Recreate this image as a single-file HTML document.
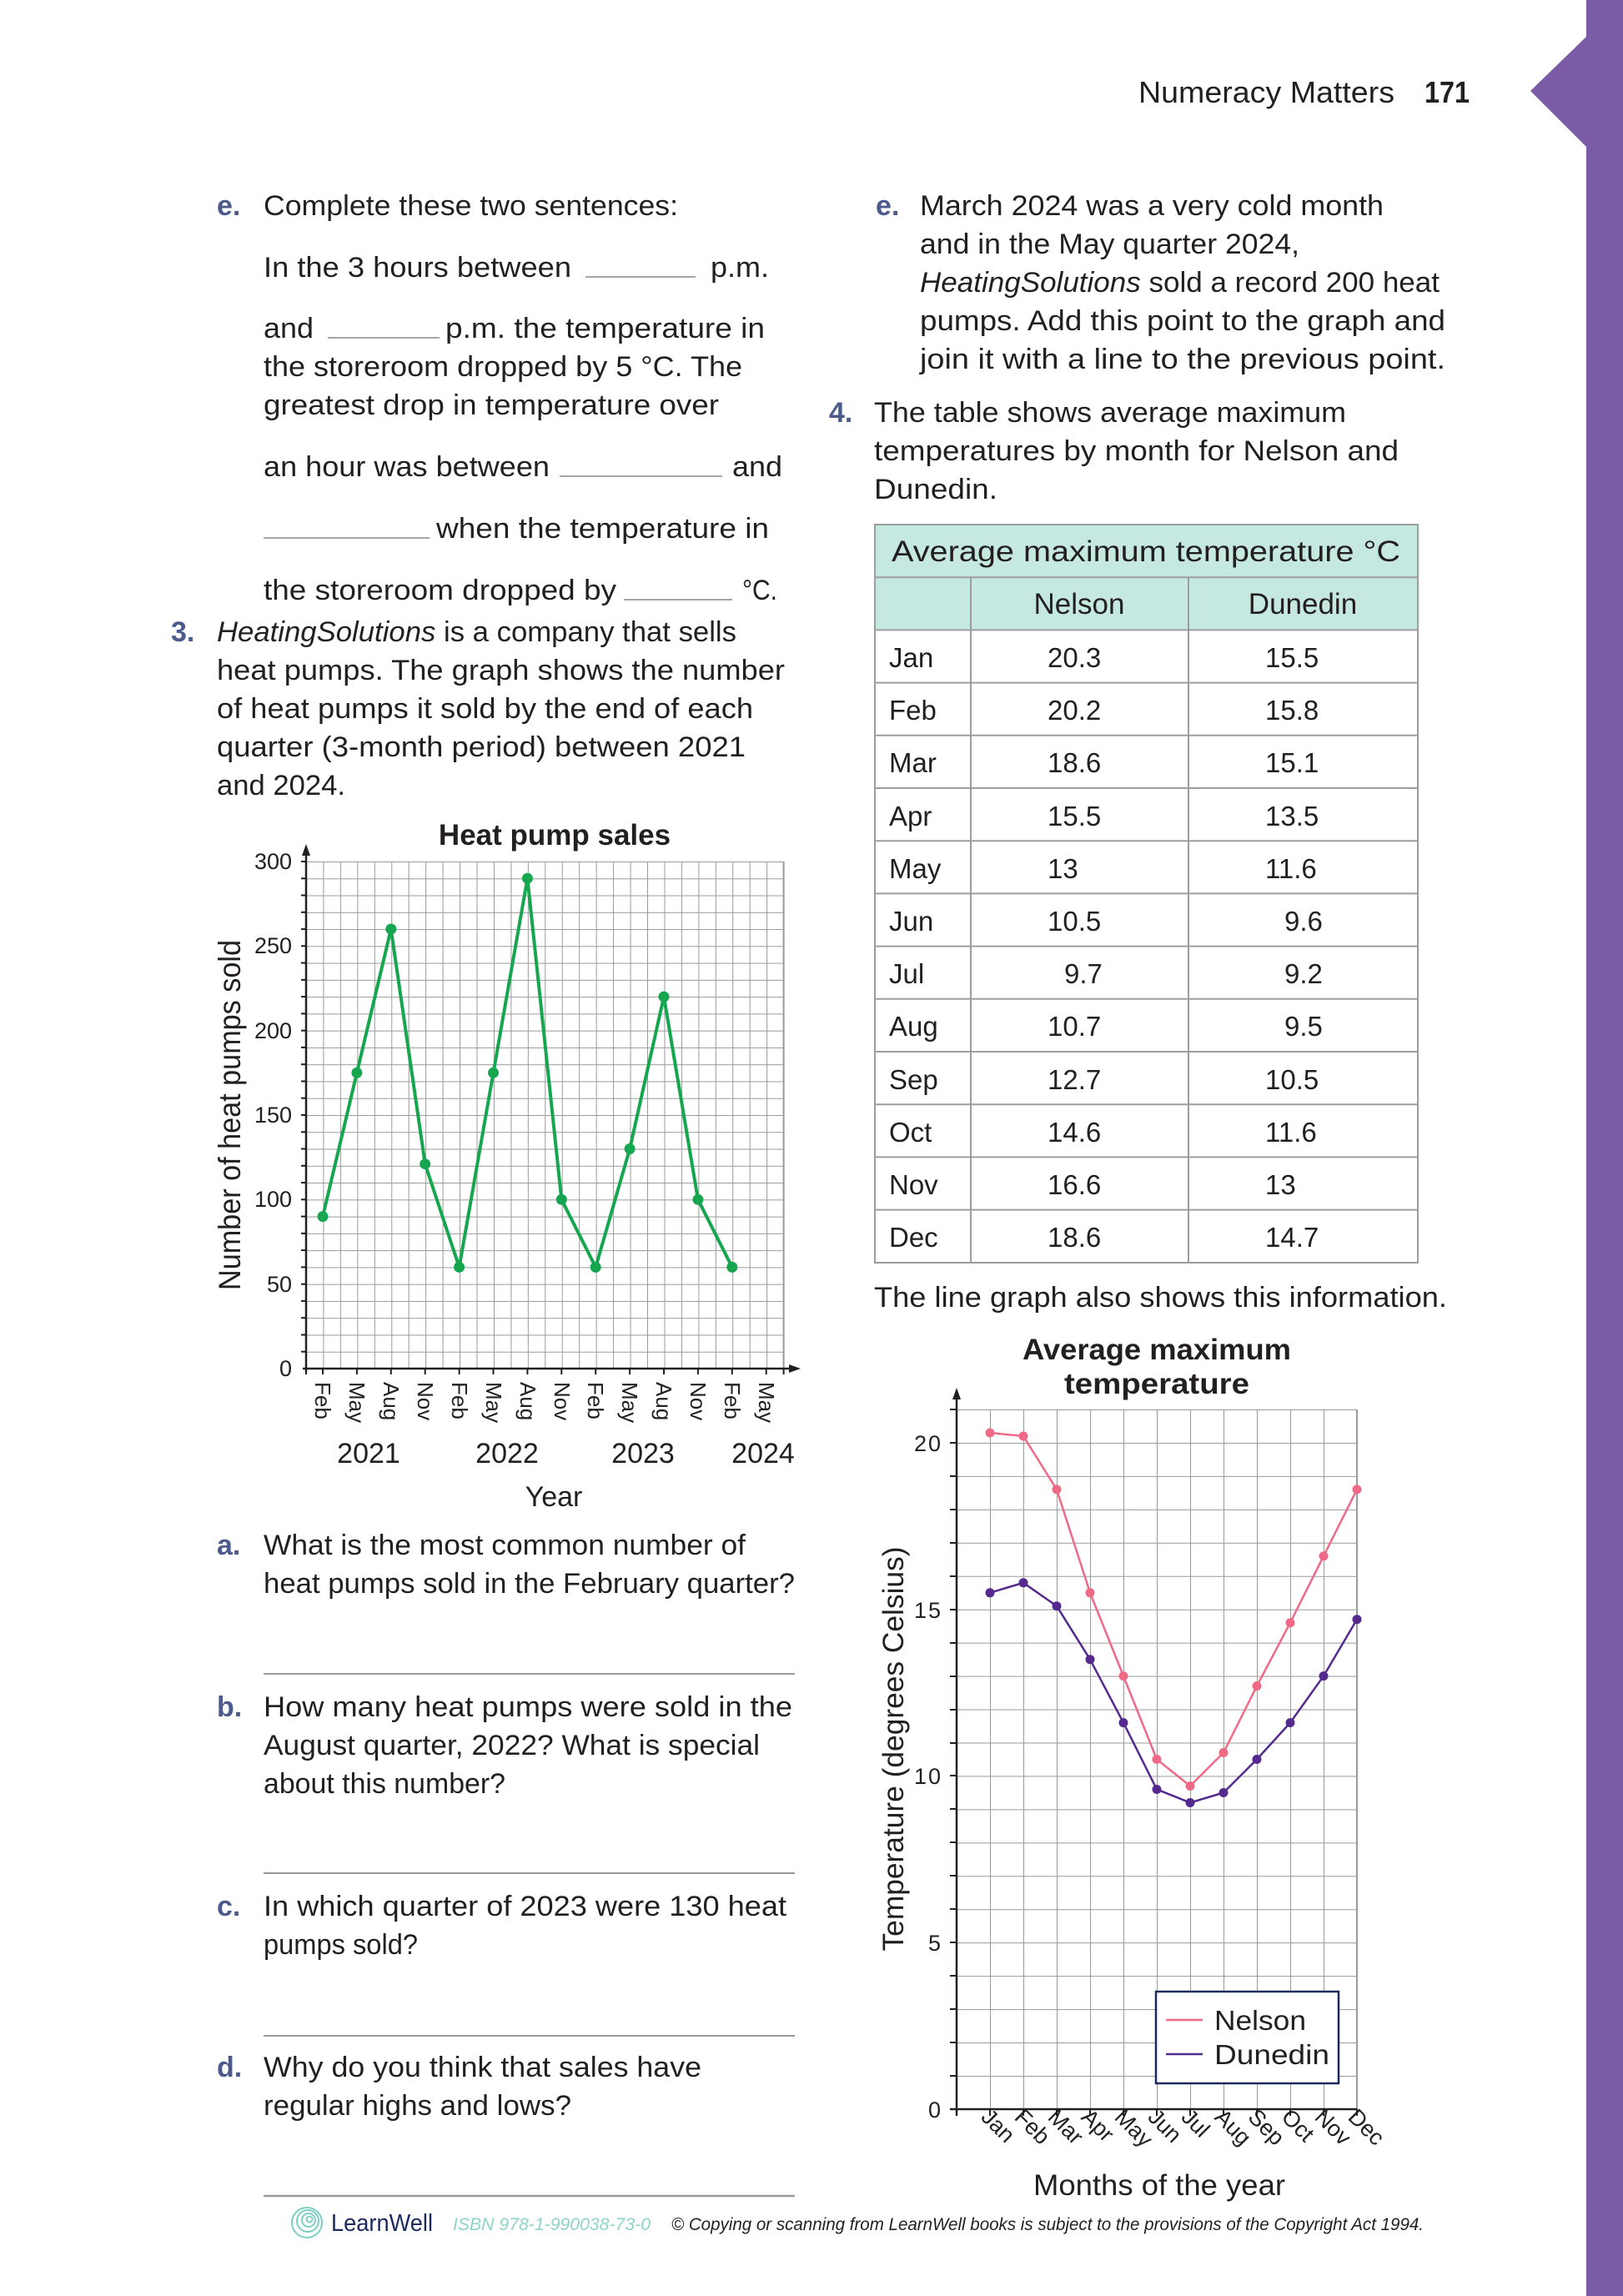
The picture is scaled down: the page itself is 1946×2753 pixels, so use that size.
<!DOCTYPE html>
<html><head><meta charset="utf-8"><style>
html,body{margin:0;padding:0;background:#fff;}
svg{display:block;}
text{font-family:"Liberation Sans",sans-serif;fill:#231f20;}
.b{font-size:34px;}
.lab{font-size:34px;font-weight:bold;fill:#4d5b8c;}
.t{font-size:25px;}
</style></head><body>
<svg width="1946" height="2753" viewBox="0 0 1946 2753" xmlns="http://www.w3.org/2000/svg">
<defs>
<pattern id="g1" patternUnits="userSpaceOnUse" x="367" y="1033" width="20.45" height="20.267">
<path d="M0 0 V20.267 M0 0 H20.45" stroke="#9a9a9a" stroke-width="2" fill="none"/>
</pattern>
<pattern id="g2" patternUnits="userSpaceOnUse" x="1147" y="1690" width="40" height="39.95">
<path d="M0 0 V39.95 M0 0 H40" stroke="#9a9a9a" stroke-width="2" fill="none"/>
</pattern>
</defs>

<rect x="1902" y="0" width="44" height="2753" fill="#7b5ba6"/>
<polygon points="1902,44 1835,109 1902,176" fill="#7b5ba6"/>
<text x="1365" y="123" style="font-size:36px" textLength="307" lengthAdjust="spacingAndGlyphs">Numeracy Matters</text>
<text x="1708" y="123" style="font-size:36px;font-weight:bold" textLength="54" lengthAdjust="spacingAndGlyphs">171</text>

<text class="lab" x="260" y="258">e.</text>
<text class="b" x="316" y="258" textLength="497" lengthAdjust="spacingAndGlyphs">Complete these two sentences:</text>
<text class="b" x="316" y="332" textLength="369" lengthAdjust="spacingAndGlyphs">In the 3 hours between</text>
<line x1="702" y1="332" x2="834" y2="332" stroke="#888" stroke-width="1.5"/>
<text class="b" x="852" y="332" textLength="70" lengthAdjust="spacingAndGlyphs">p.m.</text>
<text class="b" x="316" y="405" textLength="60" lengthAdjust="spacingAndGlyphs">and</text>
<line x1="393" y1="405" x2="527" y2="405" stroke="#888" stroke-width="1.5"/>
<text class="b" x="534" y="405" textLength="383" lengthAdjust="spacingAndGlyphs">p.m. the temperature in</text>
<text class="b" x="316" y="451" textLength="574" lengthAdjust="spacingAndGlyphs">the storeroom dropped by 5 °C. The</text>
<text class="b" x="316" y="497" textLength="546" lengthAdjust="spacingAndGlyphs">greatest drop in temperature over</text>
<text class="b" x="316" y="571" textLength="343" lengthAdjust="spacingAndGlyphs">an hour was between</text>
<line x1="671" y1="571" x2="866" y2="571" stroke="#888" stroke-width="1.5"/>
<text class="b" x="878" y="571" textLength="60" lengthAdjust="spacingAndGlyphs">and</text>
<line x1="316" y1="645" x2="515" y2="645" stroke="#888" stroke-width="1.5"/>
<text class="b" x="523" y="645" textLength="399" lengthAdjust="spacingAndGlyphs">when the temperature in</text>
<text class="b" x="316" y="719" textLength="423" lengthAdjust="spacingAndGlyphs">the storeroom dropped by</text>
<line x1="748" y1="719" x2="878" y2="719" stroke="#888" stroke-width="1.5"/>
<text class="b" x="890" y="719" textLength="42" lengthAdjust="spacingAndGlyphs">°C.</text>
<text class="lab" x="205" y="769">3.</text>
<text class="b" x="260" y="769" textLength="623" lengthAdjust="spacingAndGlyphs"><tspan font-style="italic">HeatingSolutions</tspan> is a company that sells</text>
<text class="b" x="260" y="815" textLength="681" lengthAdjust="spacingAndGlyphs">heat pumps. The graph shows the number</text>
<text class="b" x="260" y="861" textLength="643" lengthAdjust="spacingAndGlyphs">of heat pumps it sold by the end of each</text>
<text class="b" x="260" y="907" textLength="634" lengthAdjust="spacingAndGlyphs">quarter (3-month period) between 2021</text>
<text class="b" x="260" y="953" textLength="154" lengthAdjust="spacingAndGlyphs">and 2024.</text>

<text x="665" y="1013" text-anchor="middle" style="font-size:35px;font-weight:bold">Heat pump sales</text>
<rect x="367" y="1033" width="572.6" height="608" fill="url(#g1)"/>
<line x1="939.6" y1="1033" x2="939.6" y2="1641" stroke="#9a9a9a" stroke-width="2"/>
<g stroke="#231f20" stroke-width="2">
<line x1="361" y1="1033" x2="367" y2="1033"/><line x1="361" y1="1053.3" x2="367" y2="1053.3"/><line x1="361" y1="1073.5" x2="367" y2="1073.5"/><line x1="361" y1="1093.8" x2="367" y2="1093.8"/><line x1="361" y1="1114.1" x2="367" y2="1114.1"/><line x1="361" y1="1134.3" x2="367" y2="1134.3"/><line x1="361" y1="1154.6" x2="367" y2="1154.6"/><line x1="361" y1="1174.9" x2="367" y2="1174.9"/><line x1="361" y1="1195.1" x2="367" y2="1195.1"/><line x1="361" y1="1215.4" x2="367" y2="1215.4"/><line x1="361" y1="1235.7" x2="367" y2="1235.7"/><line x1="361" y1="1255.9" x2="367" y2="1255.9"/><line x1="361" y1="1276.2" x2="367" y2="1276.2"/><line x1="361" y1="1296.5" x2="367" y2="1296.5"/><line x1="361" y1="1316.7" x2="367" y2="1316.7"/><line x1="361" y1="1337" x2="367" y2="1337"/><line x1="361" y1="1357.3" x2="367" y2="1357.3"/><line x1="361" y1="1377.5" x2="367" y2="1377.5"/><line x1="361" y1="1397.8" x2="367" y2="1397.8"/><line x1="361" y1="1418.1" x2="367" y2="1418.1"/><line x1="361" y1="1438.3" x2="367" y2="1438.3"/><line x1="361" y1="1458.6" x2="367" y2="1458.6"/><line x1="361" y1="1478.9" x2="367" y2="1478.9"/><line x1="361" y1="1499.1" x2="367" y2="1499.1"/><line x1="361" y1="1519.4" x2="367" y2="1519.4"/><line x1="361" y1="1539.7" x2="367" y2="1539.7"/><line x1="361" y1="1559.9" x2="367" y2="1559.9"/><line x1="361" y1="1580.2" x2="367" y2="1580.2"/><line x1="361" y1="1600.5" x2="367" y2="1600.5"/><line x1="361" y1="1620.7" x2="367" y2="1620.7"/>
<line x1="387" y1="1641" x2="387" y2="1648"/><line x1="427.9" y1="1641" x2="427.9" y2="1648"/><line x1="468.8" y1="1641" x2="468.8" y2="1648"/><line x1="509.7" y1="1641" x2="509.7" y2="1648"/><line x1="550.6" y1="1641" x2="550.6" y2="1648"/><line x1="591.5" y1="1641" x2="591.5" y2="1648"/><line x1="632.4" y1="1641" x2="632.4" y2="1648"/><line x1="673.3" y1="1641" x2="673.3" y2="1648"/><line x1="714.2" y1="1641" x2="714.2" y2="1648"/><line x1="755.1" y1="1641" x2="755.1" y2="1648"/><line x1="796" y1="1641" x2="796" y2="1648"/><line x1="836.9" y1="1641" x2="836.9" y2="1648"/><line x1="877.8" y1="1641" x2="877.8" y2="1648"/><line x1="918.7" y1="1641" x2="918.7" y2="1648"/><line x1="367" y1="1641" x2="367" y2="1648"/><line x1="939.6" y1="1641" x2="939.6" y2="1648"/>
</g>
<line x1="367" y1="1645" x2="367" y2="1022" stroke="#231f20" stroke-width="2.5"/>
<polygon points="367,1012 362,1026 372,1026" fill="#231f20"/>
<line x1="363" y1="1641" x2="948" y2="1641" stroke="#231f20" stroke-width="2.5"/>
<polygon points="960,1641 946,1636 946,1646" fill="#231f20"/>
<g text-anchor="end">
<text x="350" y="1650" style="font-size:27px">0</text><text x="350" y="1549" style="font-size:27px">50</text><text x="350" y="1447" style="font-size:27px">100</text><text x="350" y="1346" style="font-size:27px">150</text><text x="350" y="1245" style="font-size:27px">200</text><text x="350" y="1143" style="font-size:27px">250</text><text x="350" y="1042" style="font-size:27px">300</text>
</g>
<g>
<text transform="translate(378,1657) rotate(90)" style="font-size:26px">Feb</text>
<text transform="translate(419,1657) rotate(90)" style="font-size:26px">May</text>
<text transform="translate(460,1657) rotate(90)" style="font-size:26px">Aug</text>
<text transform="translate(501,1657) rotate(90)" style="font-size:26px">Nov</text>
<text transform="translate(542,1657) rotate(90)" style="font-size:26px">Feb</text>
<text transform="translate(583,1657) rotate(90)" style="font-size:26px">May</text>
<text transform="translate(624,1657) rotate(90)" style="font-size:26px">Aug</text>
<text transform="translate(665,1657) rotate(90)" style="font-size:26px">Nov</text>
<text transform="translate(705,1657) rotate(90)" style="font-size:26px">Feb</text>
<text transform="translate(746,1657) rotate(90)" style="font-size:26px">May</text>
<text transform="translate(787,1657) rotate(90)" style="font-size:26px">Aug</text>
<text transform="translate(828,1657) rotate(90)" style="font-size:26px">Nov</text>
<text transform="translate(869,1657) rotate(90)" style="font-size:26px">Feb</text>
<text transform="translate(910,1657) rotate(90)" style="font-size:26px">May</text>
</g>
<g text-anchor="middle">
<text x="442" y="1754" style="font-size:34px">2021</text><text x="608" y="1754" style="font-size:34px">2022</text><text x="771" y="1754" style="font-size:34px">2023</text><text x="915" y="1754" style="font-size:34px">2024</text>
<text x="664" y="1806" style="font-size:34px">Year</text>
</g>
<text transform="translate(288,1337) rotate(-90)" text-anchor="middle" style="font-size:37px" textLength="420" lengthAdjust="spacingAndGlyphs">Number of heat pumps sold</text>
<polyline fill="none" stroke="#17a650" stroke-width="4" stroke-linejoin="round" points="387,1458.6 427.9,1286.3 468.8,1114.0 509.7,1395.7 550.6,1519.4 591.5,1286.3 632.4,1053.2 673.3,1438.3 714.2,1519.4 755.1,1377.5 796,1195.1 836.9,1438.3 877.8,1519.4"/>
<g fill="#17a650">
<circle cx="387" cy="1458.6" r="6.5"/><circle cx="427.9" cy="1286.3" r="6.5"/><circle cx="468.8" cy="1114" r="6.5"/><circle cx="509.7" cy="1395.7" r="6.5"/><circle cx="550.6" cy="1519.4" r="6.5"/><circle cx="591.5" cy="1286.3" r="6.5"/><circle cx="632.4" cy="1053.2" r="6.5"/><circle cx="673.3" cy="1438.3" r="6.5"/><circle cx="714.2" cy="1519.4" r="6.5"/><circle cx="755.1" cy="1377.5" r="6.5"/><circle cx="796" cy="1195.1" r="6.5"/><circle cx="836.9" cy="1438.3" r="6.5"/><circle cx="877.8" cy="1519.4" r="6.5"/>
</g>

<text class="lab" x="260" y="1864">a.</text>
<text class="b" x="316" y="1864" textLength="578" lengthAdjust="spacingAndGlyphs">What is the most common number of</text>
<text class="b" x="316" y="1910" textLength="637" lengthAdjust="spacingAndGlyphs">heat pumps sold in the February quarter?</text>
<line x1="316" y1="2007" x2="953" y2="2007" stroke="#999" stroke-width="2"/>
<text class="lab" x="260" y="2058">b.</text>
<text class="b" x="316" y="2058" textLength="634" lengthAdjust="spacingAndGlyphs">How many heat pumps were sold in the</text>
<text class="b" x="316" y="2104" textLength="595" lengthAdjust="spacingAndGlyphs">August quarter, 2022? What is special</text>
<text class="b" x="316" y="2150" textLength="290" lengthAdjust="spacingAndGlyphs">about this number?</text>
<line x1="316" y1="2246" x2="953" y2="2246" stroke="#999" stroke-width="2"/>
<text class="lab" x="260" y="2297">c.</text>
<text class="b" x="316" y="2297" textLength="627" lengthAdjust="spacingAndGlyphs">In which quarter of 2023 were 130 heat</text>
<text class="b" x="316" y="2343" textLength="185" lengthAdjust="spacingAndGlyphs">pumps sold?</text>
<line x1="316" y1="2441" x2="953" y2="2441" stroke="#999" stroke-width="2"/>
<text class="lab" x="260" y="2490">d.</text>
<text class="b" x="316" y="2490" textLength="525" lengthAdjust="spacingAndGlyphs">Why do you think that sales have</text>
<text class="b" x="316" y="2536" textLength="369" lengthAdjust="spacingAndGlyphs">regular highs and lows?</text>
<line x1="316" y1="2633" x2="953" y2="2633" stroke="#999" stroke-width="2.5"/>

<text class="lab" x="1050" y="258">e.</text>
<text class="b" x="1103" y="258" textLength="556" lengthAdjust="spacingAndGlyphs">March 2024 was a very cold month</text>
<text class="b" x="1103" y="304" textLength="455" lengthAdjust="spacingAndGlyphs">and in the May quarter 2024,</text>
<text class="b" x="1103" y="350" textLength="623" lengthAdjust="spacingAndGlyphs"><tspan font-style="italic">HeatingSolutions</tspan> sold a record 200 heat</text>
<text class="b" x="1103" y="396" textLength="630" lengthAdjust="spacingAndGlyphs">pumps. Add this point to the graph and</text>
<text class="b" x="1103" y="442" textLength="630" lengthAdjust="spacingAndGlyphs">join it with a line to the previous point.</text>
<text class="lab" x="994" y="506">4.</text>
<text class="b" x="1048" y="506" textLength="566" lengthAdjust="spacingAndGlyphs">The table shows average maximum</text>
<text class="b" x="1048" y="552" textLength="629" lengthAdjust="spacingAndGlyphs">temperatures by month for Nelson and</text>
<text class="b" x="1048" y="598" textLength="148" lengthAdjust="spacingAndGlyphs">Dunedin.</text>

<rect x="1049" y="629" width="651" height="126.4" fill="#c5e8e1"/>
<g stroke="#9d9d9d" stroke-width="2" fill="none">
<rect x="1049" y="629" width="651" height="885"/>
<line x1="1049" y1="692.2" x2="1700" y2="692.2"/><line x1="1049" y1="755.4" x2="1700" y2="755.4"/><line x1="1049" y1="818.6" x2="1700" y2="818.6"/><line x1="1049" y1="881.8" x2="1700" y2="881.8"/><line x1="1049" y1="945" x2="1700" y2="945"/><line x1="1049" y1="1008.2" x2="1700" y2="1008.2"/><line x1="1049" y1="1071.4" x2="1700" y2="1071.4"/><line x1="1049" y1="1134.6" x2="1700" y2="1134.6"/><line x1="1049" y1="1197.8" x2="1700" y2="1197.8"/><line x1="1049" y1="1261" x2="1700" y2="1261"/><line x1="1049" y1="1324.2" x2="1700" y2="1324.2"/><line x1="1049" y1="1387.4" x2="1700" y2="1387.4"/><line x1="1049" y1="1450.6" x2="1700" y2="1450.6"/>
<line x1="1164" y1="692.2" x2="1164" y2="1514"/><line x1="1425" y1="692.2" x2="1425" y2="1514"/>
</g>
<text x="1374" y="673" text-anchor="middle" style="font-size:35px" textLength="610" lengthAdjust="spacingAndGlyphs">Average maximum temperature °C</text>
<text x="1294" y="736" text-anchor="middle" style="font-size:35px">Nelson</text>
<text x="1562" y="736" text-anchor="middle" style="font-size:35px">Dunedin</text>
<g style="font-size:33px">
<text x="1066" y="800" style="font-size:33px">Jan</text><text x="1256" y="800" style="font-size:33px">20.3</text><text x="1517" y="800" style="font-size:33px">15.5</text>
<text x="1066" y="863" style="font-size:33px">Feb</text><text x="1256" y="863" style="font-size:33px">20.2</text><text x="1517" y="863" style="font-size:33px">15.8</text>
<text x="1066" y="926" style="font-size:33px">Mar</text><text x="1256" y="926" style="font-size:33px">18.6</text><text x="1517" y="926" style="font-size:33px">15.1</text>
<text x="1066" y="990" style="font-size:33px">Apr</text><text x="1256" y="990" style="font-size:33px">15.5</text><text x="1517" y="990" style="font-size:33px">13.5</text>
<text x="1066" y="1053" style="font-size:33px">May</text><text x="1256" y="1053" style="font-size:33px">13</text><text x="1517" y="1053" style="font-size:33px">11.6</text>
<text x="1066" y="1116" style="font-size:33px">Jun</text><text x="1256" y="1116" style="font-size:33px">10.5</text><text x="1540" y="1116" style="font-size:33px">9.6</text>
<text x="1066" y="1179" style="font-size:33px">Jul</text><text x="1276" y="1179" style="font-size:33px">9.7</text><text x="1540" y="1179" style="font-size:33px">9.2</text>
<text x="1066" y="1242" style="font-size:33px">Aug</text><text x="1256" y="1242" style="font-size:33px">10.7</text><text x="1540" y="1242" style="font-size:33px">9.5</text>
<text x="1066" y="1306" style="font-size:33px">Sep</text><text x="1256" y="1306" style="font-size:33px">12.7</text><text x="1517" y="1306" style="font-size:33px">10.5</text>
<text x="1066" y="1369" style="font-size:33px">Oct</text><text x="1256" y="1369" style="font-size:33px">14.6</text><text x="1517" y="1369" style="font-size:33px">11.6</text>
<text x="1066" y="1432" style="font-size:33px">Nov</text><text x="1256" y="1432" style="font-size:33px">16.6</text><text x="1517" y="1432" style="font-size:33px">13</text>
<text x="1066" y="1495" style="font-size:33px">Dec</text><text x="1256" y="1495" style="font-size:33px">18.6</text><text x="1517" y="1495" style="font-size:33px">14.7</text>
</g>
<text class="b" x="1048" y="1567" textLength="687" lengthAdjust="spacingAndGlyphs">The line graph also shows this information.</text>

<text x="1387" y="1630" text-anchor="middle" style="font-size:35px;font-weight:bold" textLength="322" lengthAdjust="spacingAndGlyphs">Average maximum</text>
<text x="1387" y="1671" text-anchor="middle" style="font-size:35px;font-weight:bold" textLength="222" lengthAdjust="spacingAndGlyphs">temperature</text>
<rect x="1147" y="1690" width="480" height="839" fill="url(#g2)"/>
<line x1="1627" y1="1690" x2="1627" y2="2529" stroke="#9a9a9a" stroke-width="2"/>
<g stroke="#231f20" stroke-width="2">
<line x1="1139" y1="1690" x2="1147" y2="1690"/><line x1="1139" y1="1730" x2="1147" y2="1730"/><line x1="1139" y1="1770" x2="1147" y2="1770"/><line x1="1139" y1="1810" x2="1147" y2="1810"/><line x1="1139" y1="1850" x2="1147" y2="1850"/><line x1="1139" y1="1890" x2="1147" y2="1890"/><line x1="1139" y1="1930" x2="1147" y2="1930"/><line x1="1139" y1="1970" x2="1147" y2="1970"/><line x1="1139" y1="2010" x2="1147" y2="2010"/><line x1="1139" y1="2050" x2="1147" y2="2050"/><line x1="1139" y1="2090" x2="1147" y2="2090"/><line x1="1139" y1="2129" x2="1147" y2="2129"/><line x1="1139" y1="2169" x2="1147" y2="2169"/><line x1="1139" y1="2209" x2="1147" y2="2209"/><line x1="1139" y1="2249" x2="1147" y2="2249"/><line x1="1139" y1="2289" x2="1147" y2="2289"/><line x1="1139" y1="2329" x2="1147" y2="2329"/><line x1="1139" y1="2369" x2="1147" y2="2369"/><line x1="1139" y1="2409" x2="1147" y2="2409"/><line x1="1139" y1="2449" x2="1147" y2="2449"/><line x1="1139" y1="2489" x2="1147" y2="2489"/>
<line x1="1147" y1="2529" x2="1147" y2="2537"/><line x1="1187" y1="2529" x2="1187" y2="2537"/><line x1="1227" y1="2529" x2="1227" y2="2537"/><line x1="1267" y1="2529" x2="1267" y2="2537"/><line x1="1307" y1="2529" x2="1307" y2="2537"/><line x1="1347" y1="2529" x2="1347" y2="2537"/><line x1="1387" y1="2529" x2="1387" y2="2537"/><line x1="1427" y1="2529" x2="1427" y2="2537"/><line x1="1467" y1="2529" x2="1467" y2="2537"/><line x1="1507" y1="2529" x2="1507" y2="2537"/><line x1="1547" y1="2529" x2="1547" y2="2537"/><line x1="1587" y1="2529" x2="1587" y2="2537"/><line x1="1627" y1="2529" x2="1627" y2="2537"/>
</g>
<line x1="1147" y1="2537" x2="1147" y2="1675" stroke="#231f20" stroke-width="2.5"/>
<polygon points="1147,1664 1142,1678 1152,1678" fill="#231f20"/>
<line x1="1139" y1="2529" x2="1627" y2="2529" stroke="#231f20" stroke-width="2.5"/>
<g text-anchor="end">
<text x="1130" y="2539" style="font-size:27px;letter-spacing:2px">0</text><text x="1130" y="2339" style="font-size:27px;letter-spacing:2px">5</text><text x="1130" y="2139" style="font-size:27px;letter-spacing:2px">10</text><text x="1130" y="1940" style="font-size:27px;letter-spacing:2px">15</text><text x="1130" y="1740" style="font-size:27px;letter-spacing:2px">20</text>
</g>
<g>
<text transform="translate(1175,2540) rotate(45)" style="font-size:27px">Jan</text>
<text transform="translate(1215,2540) rotate(45)" style="font-size:27px">Feb</text>
<text transform="translate(1255,2540) rotate(45)" style="font-size:27px">Mar</text>
<text transform="translate(1295,2540) rotate(45)" style="font-size:27px">Apr</text>
<text transform="translate(1335,2540) rotate(45)" style="font-size:27px">May</text>
<text transform="translate(1375,2540) rotate(45)" style="font-size:27px">Jun</text>
<text transform="translate(1415,2540) rotate(45)" style="font-size:27px">Jul</text>
<text transform="translate(1455,2540) rotate(45)" style="font-size:27px">Aug</text>
<text transform="translate(1495,2540) rotate(45)" style="font-size:27px">Sep</text>
<text transform="translate(1535,2540) rotate(45)" style="font-size:27px">Oct</text>
<text transform="translate(1575,2540) rotate(45)" style="font-size:27px">Nov</text>
<text transform="translate(1615,2540) rotate(45)" style="font-size:27px">Dec</text>
</g>
<text x="1390" y="2632" text-anchor="middle" style="font-size:35px" textLength="302" lengthAdjust="spacingAndGlyphs">Months of the year</text>
<text transform="translate(1083,2097) rotate(-90)" text-anchor="middle" style="font-size:35px" textLength="485" lengthAdjust="spacingAndGlyphs">Temperature (degrees Celsius)</text>
<polyline fill="none" stroke="#ef6a86" stroke-width="2.5" points="1187,1718 1227,1722 1267,1785.9 1307,1909.8 1347,2009.6 1387,2109.5 1427,2141.5 1467,2101.5 1507,2021.6 1547,1945.7 1587,1865.8 1627,1785.9"/>
<polyline fill="none" stroke="#552a8f" stroke-width="2.5" points="1187,1909.8 1227,1897.8 1267,1925.7 1307,1989.7 1347,2065.6 1387,2145.5 1427,2161.5 1467,2149.5 1507,2109.5 1547,2065.6 1587,2009.6 1627,1941.7"/>
<g fill="#ef6a86">
<circle cx="1187" cy="1718" r="5.5"/><circle cx="1227" cy="1722" r="5.5"/><circle cx="1267" cy="1785.9" r="5.5"/><circle cx="1307" cy="1909.8" r="5.5"/><circle cx="1347" cy="2009.6" r="5.5"/><circle cx="1387" cy="2109.5" r="5.5"/><circle cx="1427" cy="2141.5" r="5.5"/><circle cx="1467" cy="2101.5" r="5.5"/><circle cx="1507" cy="2021.6" r="5.5"/><circle cx="1547" cy="1945.7" r="5.5"/><circle cx="1587" cy="1865.8" r="5.5"/><circle cx="1627" cy="1785.9" r="5.5"/>
</g>
<g fill="#552a8f">
<circle cx="1187" cy="1909.8" r="5.5"/><circle cx="1227" cy="1897.8" r="5.5"/><circle cx="1267" cy="1925.7" r="5.5"/><circle cx="1307" cy="1989.7" r="5.5"/><circle cx="1347" cy="2065.6" r="5.5"/><circle cx="1387" cy="2145.5" r="5.5"/><circle cx="1427" cy="2161.5" r="5.5"/><circle cx="1467" cy="2149.5" r="5.5"/><circle cx="1507" cy="2109.5" r="5.5"/><circle cx="1547" cy="2065.6" r="5.5"/><circle cx="1587" cy="2009.6" r="5.5"/><circle cx="1627" cy="1941.7" r="5.5"/>
</g>
<rect x="1386" y="2388" width="219" height="110" fill="#fff" stroke="#1b2a5c" stroke-width="2.5"/>
<line x1="1398" y1="2422" x2="1442" y2="2422" stroke="#ef6a86" stroke-width="2.5"/>
<line x1="1398" y1="2463" x2="1442" y2="2463" stroke="#552a8f" stroke-width="2.5"/>
<text x="1456" y="2434" style="font-size:33px" textLength="110" lengthAdjust="spacingAndGlyphs">Nelson</text>
<text x="1456" y="2475" style="font-size:33px" textLength="138" lengthAdjust="spacingAndGlyphs">Dunedin</text>

<g fill="none" stroke="#7fcfc2" stroke-width="2">
<circle cx="368" cy="2665" r="18"/><circle cx="369" cy="2663" r="13"/><circle cx="370" cy="2662" r="8"/><circle cx="371" cy="2661" r="3.5"/>
</g>
<text x="397" y="2675" style="font-size:29px;fill:#1b2a5c" textLength="122" lengthAdjust="spacingAndGlyphs">LearnWell</text>
<text x="543" y="2674" style="font-size:21px;font-style:italic;fill:#8fd3c8" textLength="237" lengthAdjust="spacingAndGlyphs">ISBN 978-1-990038-73-0</text>
<text x="805" y="2674" style="font-size:21px;font-style:italic" textLength="902" lengthAdjust="spacingAndGlyphs">© Copying or scanning from LearnWell books is subject to the provisions of the Copyright Act 1994.</text>
</svg>
</body></html>
